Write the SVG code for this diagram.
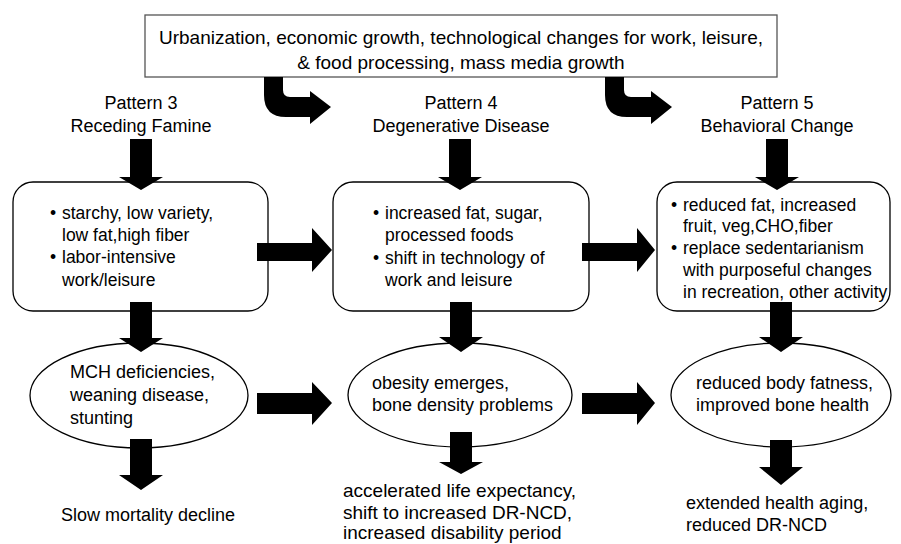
<svg xmlns="http://www.w3.org/2000/svg" width="901" height="544" viewBox="0 0 901 544">
<style>
text{font-family:"Liberation Sans",Arial,sans-serif;font-size:18px;fill:#000}
.c{text-anchor:middle}
.b{font-size:17.5px}
.big{font-size:19px}
.box{fill:#fff;stroke:#000;stroke-width:1.3}
.arr{fill:#000;stroke:none}
</style>
<rect width="901" height="544" fill="#fff"/>
<g id="top">
<rect class="box" x="145" y="15" width="632" height="62" style="stroke:#555"/>
<text class="c big" x="461" y="44">Urbanization, economic growth, technological changes for work, leisure,</text>
<text class="c big" x="461" y="69">&amp; food processing, mass media growth</text>
</g>
<g id="p3label"><text class="c" x="141" y="109">Pattern 3</text><text class="c" x="141" y="132">Receding Famine</text></g>
<g id="p4label"><text class="c" x="461" y="109">Pattern 4</text><text class="c" x="461" y="132">Degenerative Disease</text></g>
<g id="p5label"><text class="c" x="777" y="109">Pattern 5</text><text class="c" x="777" y="132">Behavioral Change</text></g>
<g id="box3" class="b">
<rect class="box" x="13" y="182" width="255" height="129" rx="20"/>
<text class="b" x="50" y="219">•</text><text class="b" x="62" y="219">starchy, low variety,</text>
<text class="b" x="62" y="241">low fat,high fiber</text>
<text class="b" x="50" y="263">•</text><text class="b" x="62" y="263">labor-intensive</text>
<text class="b" x="62" y="286">work/leisure</text>
</g>
<g id="box4">
<rect class="box" x="333" y="182" width="256" height="129" rx="20"/>
<text class="b" x="373" y="219">•</text><text class="b" x="385" y="219">increased fat, sugar,</text>
<text class="b" x="385" y="241">processed foods</text>
<text class="b" x="373" y="264">•</text><text class="b" x="385" y="264">shift in technology of</text>
<text class="b" x="385" y="286">work and leisure</text>
</g>
<g id="box5">
<rect class="box" x="657" y="182" width="233" height="129" rx="20"/>
<text class="b" x="671" y="211">•</text><text class="b" x="683" y="211">reduced fat, increased</text>
<text class="b" x="683" y="232">fruit, veg,CHO,fiber</text>
<text class="b" x="671" y="254">•</text><text class="b" x="683" y="254">replace sedentarianism</text>
<text class="b" x="683" y="276">with purposeful changes</text>
<text class="b" x="683" y="298">in recreation, other activity</text>
</g>
<g id="ell3">
<ellipse class="box" cx="139" cy="395.5" rx="109" ry="52.5"/>
<text x="70" y="378">MCH deficiencies,</text>
<text x="70" y="401">weaning disease,</text>
<text x="70" y="424">stunting</text>
</g>
<g id="ell4">
<ellipse class="box" cx="460" cy="395" rx="112" ry="52"/>
<text x="372" y="389">obesity emerges,</text>
<text x="372" y="411">bone density problems</text>
</g>
<g id="ell5">
<ellipse class="box" cx="781" cy="395" rx="110" ry="52"/>
<text x="696" y="389">reduced body fatness,</text>
<text x="696" y="411">improved bone health</text>
</g>
<g id="out3"><text class="c" x="148" y="521">Slow mortality decline</text></g>
<g id="out4">
<text class="big" x="343" y="497">accelerated life expectancy,</text>
<text class="big" x="343" y="519">shift to increased DR-NCD,</text>
<text class="big" x="343" y="539">increased disability period</text>
</g>
<g id="out5">
<text x="686" y="509">extended health aging,</text>
<text x="686" y="531">reduced DR-NCD</text>
</g>
<g id="connectors" class="arr">
<path d="M264,77 H283 V90 Q283,97 290,97 H310 V91 L331,107 L310,124 V117 H286 Q264,117 264,95 Z"/>
<path d="M605,77 H624 V90 Q624,97 631,97 H651 V91 L672,107 L651,124 V117 H627 Q605,117 605,95 Z"/>
<path d="M130,139 H152 V177 H163 L141,190 L119,177 H130 Z"/>
<path d="M449,139 H471 V177 H482 L460,190 L438,177 H449 Z"/>
<path d="M766,139 H788 V177 H799 L777,190 L755,177 H766 Z"/>
<path d="M130,302 H152 V338 H163 L141,352 L119,338 H130 Z"/>
<path d="M450,302 H472 V337 H483 L461,352 L439,337 H450 Z"/>
<path d="M770,302 H792 V337 H803 L781,352 L759,337 H770 Z"/>
<path d="M130,439 H152 V475 H163 L141,490 L119,475 H130 Z"/>
<path d="M450,432 H472 V462 H483 L461,474 L439,462 H450 Z"/>
<path d="M770,440 H792 V467 H803 L781,485 L759,467 H770 Z"/>
<path d="M257,243 H312 V228 L332,250 L312,272 V261 H257 Z"/>
<path d="M582,243 H637 V228 L655,250 L637,272 V261 H582 Z"/>
<path d="M257,393 H312 V382 L332,403 L312,425 V414 H257 Z"/>
<path d="M582,393 H637 V382 L655,403 L637,425 V414 H582 Z"/>
</g>
</svg>
